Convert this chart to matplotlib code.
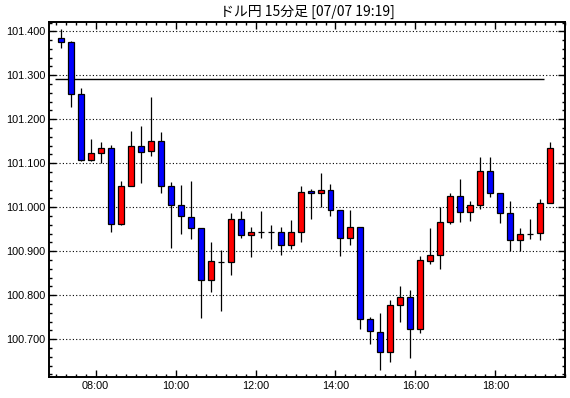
import numpy as np
import pandas as pd
import matplotlib
matplotlib.use("Agg")
import matplotlib.pyplot as plt
from matplotlib.ticker import MultipleLocator, FuncFormatter

plt.rcParams["font.family"] = ["Liberation Sans", "DejaVu Sans"]

# ---- data: USD/JPY 15-minute candles, 07:00 - 19:15 ----
times = pd.date_range("2014-07-07 07:00", periods=50, freq="15min")

opens = [101.385, 101.375, 101.258, 101.107, 101.123, 101.134, 100.961, 101.048, 101.139, 101.127,
         101.150, 101.048, 101.004, 100.977, 100.952, 100.834, 100.876, 100.875, 100.973, 100.936,
         100.943, 100.943, 100.943, 100.913, 100.943, 101.037, 101.032, 101.039, 100.993, 100.930,
         100.955, 100.745, 100.716, 100.670, 100.777, 100.795, 100.722, 100.877, 100.891, 100.966,
         101.025, 100.989, 101.005, 101.082, 101.032, 100.986, 100.925, 100.939, 100.941, 101.009]
highs = [101.406, 101.377, 101.271, 101.156, 101.148, 101.141, 101.059, 101.174, 101.185, 101.251,
         101.171, 101.058, 101.051, 101.060, 100.952, 100.921, 100.903, 100.987, 100.992, 100.955,
         100.992, 100.960, 100.955, 100.971, 101.048, 101.041, 101.078, 101.053, 100.993, 100.993,
         100.955, 100.750, 100.760, 100.789, 100.821, 100.811, 100.889, 100.952, 101.000, 101.032,
         101.064, 101.014, 101.114, 101.114, 101.032, 101.014, 100.952, 100.973, 101.018, 101.148]
lows = [101.361, 101.229, 101.105, 101.105, 101.100, 100.944, 100.959, 101.048, 101.056, 101.117,
        101.032, 100.908, 100.938, 100.927, 100.747, 100.808, 100.765, 100.847, 100.931, 100.886,
        100.929, 100.904, 100.892, 100.904, 100.920, 100.974, 101.000, 100.979, 100.890, 100.915,
        100.722, 100.690, 100.629, 100.647, 100.740, 100.658, 100.713, 100.870, 100.859, 100.961,
        100.966, 100.968, 100.995, 101.023, 100.964, 100.900, 100.900, 100.927, 100.925, 101.009]
closes = [101.375, 101.258, 101.107, 101.123, 101.134, 100.961, 101.048, 101.139, 101.125, 101.151,
          101.048, 101.004, 100.980, 100.952, 100.834, 100.877, 100.876, 100.973, 100.936, 100.943,
          100.943, 100.943, 100.913, 100.943, 101.034, 101.032, 101.039, 100.993, 100.930, 100.955,
          100.745, 100.718, 100.670, 100.777, 100.795, 100.722, 100.880, 100.891, 100.966, 101.025,
          100.989, 101.005, 101.082, 101.032, 100.986, 100.925, 100.939, 100.939, 101.009, 101.134]

ref_level = 101.291          # horizontal reference line
ref_span = (6.98, 19.22)     # hours

title = "ドル円 15分足 [07/07 19:19]"

# ---- figure ----
fig = plt.figure(figsize=(5.7, 3.98), dpi=100)
fig.patch.set_facecolor("white")
ax = fig.add_axes([0.0865, 0.0528, 0.9053, 0.8912])

o = np.array(opens)
c = np.array(closes)
h = np.array(highs)
l = np.array(lows)
hrs = (times.hour + times.minute / 60.0).to_numpy()
x = hrs + 0.125            # candle drawn in the middle of its 15-min slot
up = c >= o
col = np.where(up, "#ff0000", "#0000ff")

ax.vlines(x, l, h, color="black", linewidth=0.9, zorder=2)
ax.bar(x, np.abs(c - o), width=0.15, bottom=np.minimum(o, c), color=col,
       edgecolor="black", linewidth=0.9, zorder=3)

ax.hlines(ref_level, ref_span[0], ref_span[1], color="black", linewidth=1.0, zorder=2)

# ---- axes ----
ax.set_xlim(6.84, 19.75)
ax.set_ylim(100.614, 101.4205)

ax.xaxis.set_major_locator(MultipleLocator(2))
ax.xaxis.set_minor_locator(MultipleLocator(0.25))
ax.xaxis.set_major_formatter(FuncFormatter(lambda v, p: f"{int(v):02d}:00"))
ax.yaxis.set_major_locator(MultipleLocator(0.1))
ax.yaxis.set_minor_locator(MultipleLocator(0.02))
ax.yaxis.set_major_formatter(FuncFormatter(lambda v, p: f"{v:.3f}"))

ax.tick_params(which="both", direction="in", top=True, right=True, width=1, color="black")
ax.tick_params(which="major", length=5, labelsize=7.8, pad=3)
ax.tick_params(which="minor", length=2.5)

ax.yaxis.grid(True, which="major", color="black", linestyle=(0, (1, 2)), linewidth=0.8)
ax.set_axisbelow(True)

for s in ax.spines.values():
    s.set_linewidth(1.4)
    s.set_color("black")

fig.text(0.539, 0.971, title, ha="center", va="center", fontsize=10,
         family=["Noto Sans CJK JP", "DejaVu Sans"])

fig.savefig("out.png", dpi=100, facecolor="white")
